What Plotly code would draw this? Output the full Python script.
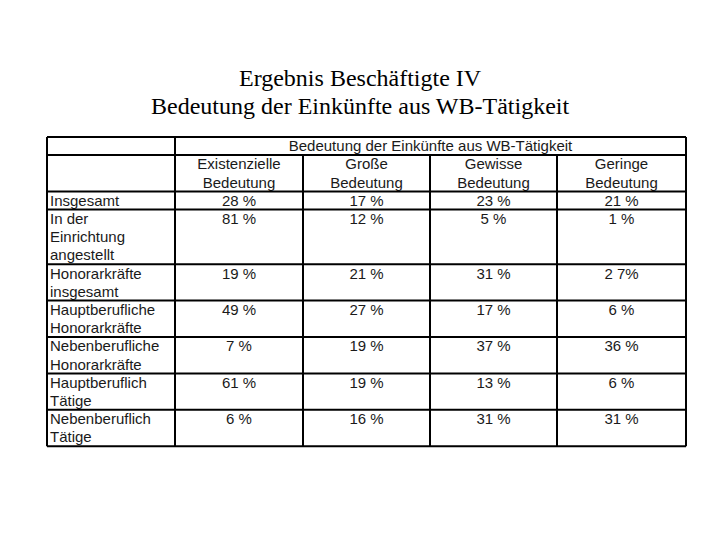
import plotly.graph_objects as go

# Table content
title_lines = ["Ergebnis Beschäftigte IV", "Bedeutung der Einkünfte aus WB-Tätigkeit"]
group_title = "Bedeutung der Einkünfte aus WB-Tätigkeit"
col_labels = ["Existenzielle<br>Bedeutung", "Große<br>Bedeutung",
              "Gewisse<br>Bedeutung", "Geringe<br>Bedeutung"]
row_labels = ["Insgesamt", "In der<br>Einrichtung<br>angestellt",
              "Honorarkräfte<br>insgesamt", "Hauptberufliche<br>Honorarkräfte",
              "Nebenberufliche<br>Honorarkräfte", "Hauptberuflich<br>Tätige",
              "Nebenberuflich<br>Tätige"]
existenziell = ["28 %", "81 %", "19 %", "49 %", "7 %", "61 %", "6 %"]
gross = ["17 %", "12 %", "21 %", "27 %", "19 %", "19 %", "16 %"]
gewiss = ["23 %", "5 %", "31 %", "17 %", "37 %", "13 %", "31 %"]
gering = ["21 %", "1 %", "2 7%", "6 %", "36 %", "6 %", "31 %"]

# Layout / style (window pixel units; page body has an 8px margin)
W, H = 720, 540
off = 8
left, top = 47, 137
col_w = [128, 128, 127, 127, 129]
line_h = 18.2
group_h = 18
pad = 3
dy = 1.5  # nudge text down to sit like the reference
tcolor = "#1a1a1a"
tfont = dict(family="Liberation Sans, Arial", size=15, color=tcolor)
lw = 2

value_cols = [existenziell, gross, gewiss, gering]

# column edges
edges = [left]
for w in col_w:
    edges.append(edges[-1] + w)
centers = [(edges[i] + edges[i + 1]) / 2 for i in range(len(col_w))]

# row edges from line counts
head_top = top + group_h
n_head = max(lbl.count("<br>") + 1 for lbl in col_labels)
row_tops = [head_top + n_head * line_h]
for lbl in row_labels:
    row_tops.append(row_tops[-1] + (lbl.count("<br>") + 1) * line_h)
bottom = row_tops[-1]

fig = go.Figure()

# row labels, one point per text line
lx, ly, lt = [], [], []
for r, lbl in enumerate(row_labels):
    for k, part in enumerate(lbl.split("<br>")):
        lx.append(edges[0] + pad)
        ly.append(row_tops[r] + line_h * (k + 0.5) + dy)
        lt.append(part)
fig.add_trace(go.Scatter(x=lx, y=ly, text=lt, mode="text",
                         textposition="middle right", textfont=tfont,
                         hoverinfo="skip", showlegend=False))

# values
vx, vy, vt = [], [], []
for c, col in enumerate(value_cols):
    for r, v in enumerate(col):
        vx.append(centers[c + 1])
        vy.append(row_tops[r] + line_h * 0.5 + dy)
        vt.append(v)
fig.add_trace(go.Scatter(x=vx, y=vy, text=vt, mode="text",
                         textposition="middle center", textfont=tfont,
                         hoverinfo="skip", showlegend=False))

# column headers
hx, hy, ht = [], [], []
for c, lbl in enumerate(col_labels):
    for k, part in enumerate(lbl.split("<br>")):
        hx.append(centers[c + 1])
        hy.append(head_top + line_h * (k + 0.5) + dy)
        ht.append(part)
hx.append((edges[1] + edges[-1]) / 2)
hy.append(top + group_h / 2 + dy)
ht.append(group_title)
fig.add_trace(go.Scatter(x=hx, y=hy, text=ht, mode="text",
                         textposition="middle center", textfont=tfont,
                         hoverinfo="skip", showlegend=False))

# grid lines
shapes = []
lstyle = dict(color="black", width=lw)
for y in [top, head_top] + row_tops:
    shapes.append(dict(type="line", x0=edges[0], x1=edges[-1], y0=y, y1=y,
                       xref="x", yref="y", line=lstyle))
for i, x in enumerate(edges):
    y0 = top if i in (0, 1, len(edges) - 1) else head_top
    shapes.append(dict(type="line", x0=x, x1=x, y0=y0, y1=bottom,
                       xref="x", yref="y", line=lstyle))

# title
annotations = []
for i, t in enumerate(title_lines):
    annotations.append(dict(text=t, x=W / 2, y=78 + 28 * i, xref="x", yref="y",
                            showarrow=False, xanchor="center", yanchor="middle",
                            font=dict(family="Liberation Serif, Times New Roman",
                                      size=24, color="black")))

fig.update_layout(
    width=W, height=H,
    margin=dict(l=0, r=0, t=0, b=0),
    paper_bgcolor="white", plot_bgcolor="white",
    xaxis=dict(range=[off, W + off], visible=False, fixedrange=True),
    yaxis=dict(range=[H + off, off], visible=False, fixedrange=True),
    shapes=shapes, annotations=annotations,
)

fig.write_html("out.html")
